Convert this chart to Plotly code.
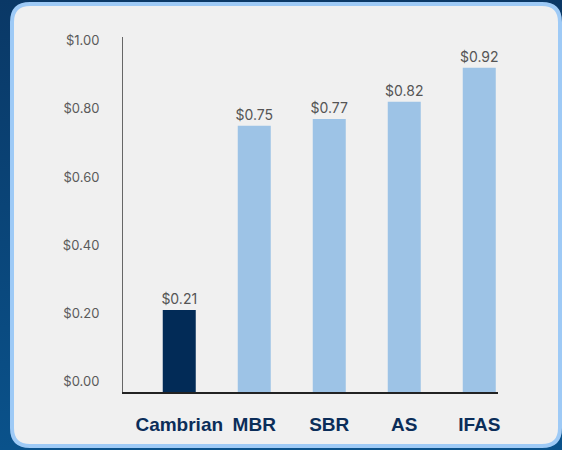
import base64
import plotly.graph_objects as go

categories = ["Cambrian", "MBR", "SBR", "AS", "IFAS"]
values = [0.21, 0.75, 0.77, 0.82, 0.92]
value_labels = ["$0.21", "$0.75", "$0.77", "$0.82", "$0.92"]
bar_colors = ["#022b57", "#9dc3e6", "#9dc3e6", "#9dc3e6", "#9dc3e6"]
tick_vals = [0, 0.2, 0.4, 0.6, 0.8, 1.0]
tick_text = ["$0.00", "$0.20", "$0.40", "$0.60", "$0.80", "$1.00"]
BASE = -0.03  # baseline of the bars sits slightly below $0.00

W, H = 562, 450
ml, mr, mt, mb = 123, 64, 37, 58
pw, ph = W - ml - mr, H - mt - mb

def px(x):
    return (x - ml) / pw

def py(y):
    return (H - mb - y) / ph

def rounded(x0, y0, x1, y1, r):
    return (f"M {px(x0 + r)},{py(y0)} L {px(x1 - r)},{py(y0)} "
            f"Q {px(x1)},{py(y0)} {px(x1)},{py(y0 + r)} "
            f"L {px(x1)},{py(y1 - r)} Q {px(x1)},{py(y1)} {px(x1 - r)},{py(y1)} "
            f"L {px(x0 + r)},{py(y1)} Q {px(x0)},{py(y1)} {px(x0)},{py(y1 - r)} "
            f"L {px(x0)},{py(y0 + r)} Q {px(x0)},{py(y0)} {px(x0 + r)},{py(y0)} Z")

svg = (f'<svg xmlns="http://www.w3.org/2000/svg" width="{W}" height="{H}">'
       '<defs><linearGradient id="g" x1="0" y1="0" x2="0" y2="1">'
       '<stop offset="0" stop-color="#0a3866"/><stop offset="1" stop-color="#0a528b"/>'
       '</linearGradient></defs>'
       f'<rect width="{W}" height="{H}" fill="url(#g)"/></svg>')
bg_uri = "data:image/svg+xml;base64," + base64.b64encode(svg.encode()).decode()

fig = go.Figure()
fig.add_trace(go.Bar(
    x=categories,
    y=[v - BASE for v in values],
    base=[BASE] * len(values),
    marker=dict(color=bar_colors, line=dict(width=0)),
    width=0.44,
    text=value_labels,
    textposition="outside",
    constraintext="none",
    textfont=dict(family="Inter, Arial, sans-serif", size=14, color="#555555"),
    cliponaxis=False,
    hoverinfo="skip",
))

fig.update_layout(
    width=W, height=H,
    margin=dict(l=ml, r=mr, t=mt, b=mb),
    paper_bgcolor="#0b4478",
    plot_bgcolor="rgba(0,0,0,0)",
    showlegend=False,
    images=[dict(source=bg_uri, xref="paper", yref="paper", x=px(0), y=py(0),
                 sizex=W / pw, sizey=H / ph, xanchor="left", yanchor="top",
                 sizing="stretch", layer="below")],
    shapes=[dict(type="path", xref="paper", yref="paper", layer="below",
                 path=rounded(12, 4, 560, 446, 18),
                 fillcolor="#f0f0f0", line=dict(color="#9ecaf6", width=4))],
    xaxis=dict(
        range=[-0.75, 4.25],
        showgrid=False, zeroline=False,
        showline=True, linecolor="#222222", linewidth=1.5,
        ticks="", ticklabelstandoff=14,
        tickfont=dict(family="Arial, Liberation Sans, sans-serif", size=19, color="#0b2d59", weight="bold"),
    ),
    yaxis=dict(
        range=[BASE, 1.01],
        tickvals=tick_vals, ticktext=tick_text,
        showgrid=False, zeroline=False,
        showline=True, linecolor="#666666", linewidth=1,
        ticks="", ticklabelstandoff=20,
        tickfont=dict(family="Inter, Arial, sans-serif", size=13, color="#5a5a5a"),
    ),
    uniformtext=dict(mode=False),
)

fig.write_html("out.html", config={"displayModeBar": False},
               post_script="document.body.style.margin='0';")
